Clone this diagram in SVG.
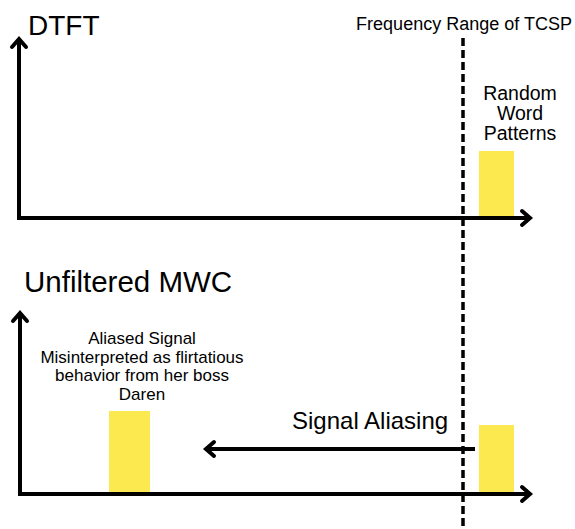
<svg xmlns="http://www.w3.org/2000/svg" width="575" height="529" viewBox="0 0 575 529">
  <style>
    .ax { stroke: #000; stroke-width: 4; fill: none; }
    .head { stroke: #000; stroke-width: 4; fill: none; stroke-linecap: round; stroke-linejoin: miter; }
    .bar { fill: #FBE94F; }
    text { font-family: "Liberation Sans", Arial, sans-serif; fill: #000; }
    .title { font-size: 28px; }
    .lbl { font-size: 18px; text-anchor: middle; }
    .note { font-size: 17px; text-anchor: middle; }
    .lbl20 { font-size: 19.5px; text-anchor: middle; }
    .mid { font-size: 24px; }
  </style>
  <rect width="575" height="529" fill="#fff"/>

  <!-- upper spectrum -->
  <g id="dtft-title"><text class="title" x="28" y="35">DTFT</text></g>
  <g id="dtft-bar">
    <rect class="bar" x="479" y="151" width="35" height="67"/>
    <text class="lbl20" x="520" y="100">Random</text>
    <text class="lbl20" x="520" y="120">Word</text>
    <text class="lbl20" x="520" y="140">Patterns</text>
  </g>

  <!-- lower spectrum -->
  <g id="mwc-title"><text class="title" x="24" y="292" style="font-size:29.5px">Unfiltered MWC</text></g>
  <g id="alias-bar">
    <rect class="bar" x="109" y="411" width="41" height="83"/>
    <text class="note" x="142" y="344">Aliased Signal</text>
    <text class="note" x="142" y="362.5">Misinterpreted as flirtatious</text>
    <text class="note" x="142" y="381">behavior from her boss</text>
    <text class="note" x="142" y="399.5">Daren</text>
  </g>
  <g id="source-bar">
    <rect class="bar" x="479" y="425" width="35" height="69"/>
  </g>

  <g id="connectors">
    <!-- upper axes -->
    <line class="ax" x1="19" y1="39" x2="19" y2="218"/>
    <polyline class="head" points="12,47 19,39 26,47"/>
    <line class="ax" x1="17" y1="218" x2="530" y2="218"/>
    <polyline class="head" points="522,211 530,218 522,225"/>
    <!-- lower axes -->
    <line class="ax" x1="20" y1="313" x2="20" y2="494"/>
    <polyline class="head" points="13,321 20,313 27,321"/>
    <line class="ax" x1="18" y1="494" x2="530" y2="494"/>
    <polyline class="head" points="522,487 530,494 522,501"/>
    <!-- aliasing arrow -->
    <line class="ax" x1="475" y1="449" x2="206" y2="449"/>
    <polyline class="head" points="214,442 206,449 214,456"/>
    <!-- band limit -->
    <line x1="463" y1="38" x2="463" y2="529" stroke="#000" stroke-width="3.5" stroke-dasharray="8 4"/>
  </g>

  <g id="band-label"><text class="lbl" x="464" y="30">Frequency Range of TCSP</text></g>
  <g id="alias-label"><text class="mid" x="292" y="429">Signal Aliasing</text></g>
</svg>
